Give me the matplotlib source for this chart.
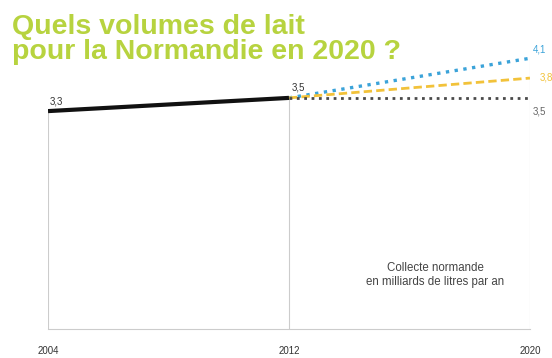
import matplotlib.pyplot as plt

# Collecte normande, milliards de litres par an
years_hist = [2004, 2012]
vol_hist = [3.3, 3.5]

years_proj = [2012, 2020]
scenario_high = [3.5, 4.1]
scenario_mid = [3.5, 3.8]
scenario_low = [3.5, 3.5]

tick_years = [2004, 2012, 2020]

green = '#b7d33f'
blue = '#3ba3d9'
yellow = '#f2c23a'
dark = '#4a4a4a'

plt.rcParams['font.family'] = ['Liberation Sans', 'DejaVu Sans']

fig = plt.figure(figsize=(5.52, 3.58), dpi=100)
ax = fig.add_axes([0.087, 0.081, 0.873, 0.83])

# vertical guide lines
ax.vlines(tick_years, 0, [vol_hist[0], vol_hist[1], scenario_high[1]],
          color='#cccccc', linewidth=0.8, zorder=1)

ax.plot(years_proj, scenario_high, color=blue, linestyle=':', linewidth=2.4, zorder=3)
ax.plot(years_proj, scenario_mid, color=yellow, linestyle=(0, (3, 1.5)), linewidth=2, zorder=3)
ax.plot(years_proj, scenario_low, color=dark, linestyle=':', linewidth=2, zorder=3)
ax.plot(years_hist, vol_hist, color='#111111', linewidth=3, solid_capstyle='butt', zorder=4)

# value labels
ax.annotate('3,3', (years_hist[0], vol_hist[0]), xytext=(1, 5), textcoords='offset points',
            fontsize=7, color='#333333')
ax.annotate('3,5', (years_hist[1], vol_hist[1]), xytext=(2, 5), textcoords='offset points',
            fontsize=7, color='#333333')
ax.annotate('4,1', (years_proj[1], scenario_high[1]), xytext=(2, 4), textcoords='offset points',
            fontsize=7, color=blue, annotation_clip=False)
ax.annotate('3,8', (years_proj[1], scenario_mid[1]), xytext=(7, -2), textcoords='offset points',
            fontsize=7, color=yellow, annotation_clip=False)
ax.annotate('3,5', (years_proj[1], scenario_low[1]), xytext=(2, -12), textcoords='offset points',
            fontsize=7, color='#666666', annotation_clip=False)

ax.text(2016.85, 0.82, 'Collecte normande\nen milliards de litres par an', ha='center', va='center',
        fontsize=8.3, color='#444444', linespacing=1.25)

ax.set_xlim(2004, 2020)
ax.set_ylim(0, 4.5)
ax.set_xticks(tick_years)
ax.set_xticklabels([str(y) for y in tick_years], fontsize=7, color='#333333')
ax.set_yticks([])
for side in ['top', 'right', 'left']:
    ax.spines[side].set_visible(False)
ax.spines['bottom'].set_color('#cccccc')
ax.spines['bottom'].set_linewidth(0.8)
ax.tick_params(axis='x', length=0, pad=12)

fig.text(0.021, 0.96, 'Quels volumes de lait\npour la Normandie en 2020 ?', ha='left', va='top',
         fontsize=20.5, fontweight='bold', color=green, linespacing=0.95)

fig.savefig('out.png', dpi=100)
